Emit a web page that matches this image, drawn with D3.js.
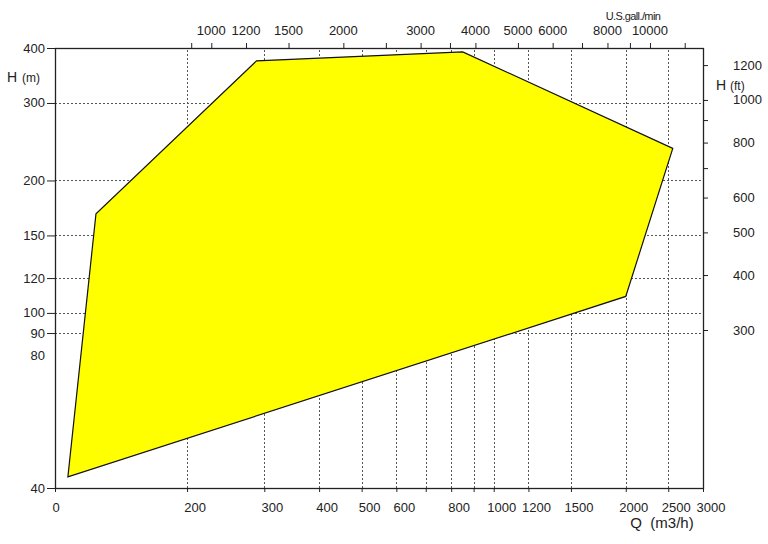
<!DOCTYPE html>
<html><head><meta charset="utf-8">
<script src="https://cdn.jsdelivr.net/npm/d3@7"></script>
<style>
body{margin:0;background:#fff;}
text{font-family:"Liberation Sans",Arial,sans-serif;fill:#222;}
</style></head>
<body><svg id="c" width="768" height="544"></svg>
<script>
// Data
const flowQ = [107, 124, 288, 850, 2560, 2000];      // m3/h
const headH = [42.4, 168, 374, 392, 236.5, 109];     // m
const bottomTicks = [100, 200, 300, 400, 500, 600, 700, 800, 900, 1000, 1200, 1500, 2000, 2500, 3000];
const bottomLabels = {100:"0",200:"200",300:"300",400:"400",500:"500",600:"600",800:"800",1000:"1000",1200:"1200",1500:"1500",2000:"2000",2500:"2500",3000:"3000"};
const bottomGrid = [200, 300, 400, 500, 600, 700, 800, 900, 1000, 1200, 1500, 2000, 2500];
const leftTicks = [40, 90, 100, 120, 150, 200, 300, 400];
const leftLabels = [40, 80, 90, 100, 120, 150, 200, 300, 400];
const leftGrid = [90, 100, 120, 150, 200, 300];
const rightTicks = [300, 400, 500, 600, 700, 800, 900, 1000, 1200];
const rightLabels = [300, 400, 500, 600, 800, 1000, 1200];
const topTicks = [900, 1000, 1200, 1500, 2000, 2500, 3000, 3500, 4000, 5000, 6000, 7000, 8000, 9000, 10000, 12000];
const topLabels = [1000, 1200, 1500, 2000, 3000, 4000, 5000, 6000, 8000, 10000];
const M_TO_FT = 3.28084, M3H_TO_GPM = 4.40287;

const svg = d3.select("#c");
const x0 = 55, x1 = 703, y0 = 488, y1 = 48;
const x = d3.scaleLog().domain([100, 3000]).range([x0, x1]);
const y = d3.scaleLog().domain([40, 400]).range([y0, y1]);
const yFt = d3.scaleLog().domain([40*M_TO_FT, 400*M_TO_FT]).range([y0, y1]);
const xG = d3.scaleLog().domain([100*M3H_TO_GPM, 3000*M3H_TO_GPM]).range([x0, x1]);

const grid = svg.append("g").attr("stroke", "#555").attr("stroke-width", 1).attr("stroke-dasharray", "2,2");
grid.selectAll(".v").data(bottomGrid).join("line")
  .attr("x1", d => Math.round(x(d)) + 0.5).attr("x2", d => Math.round(x(d)) + 0.5)
  .attr("y1", y0).attr("y2", y1);
grid.selectAll(".h").data(leftGrid).join("line")
  .attr("y1", d => Math.round(y(d)) + 0.5).attr("y2", d => Math.round(y(d)) + 0.5)
  .attr("x1", x0).attr("x2", x1);

// polygon
const pts = flowQ.map((q, i) => [x(q), y(headH[i])]);
svg.append("path").attr("d", d3.line()(pts) + "Z")
  .attr("fill", "#ffff00").attr("stroke", "#111").attr("stroke-width", 1.2).attr("stroke-linejoin", "miter");

// frame
svg.append("rect").attr("x", x0 + 0.5).attr("y", y1 + 0.5).attr("width", x1 - x0).attr("height", y0 - y1)
  .attr("fill", "none").attr("stroke", "#222").attr("stroke-width", 1.3);

// bottom axis
const bAxis = d3.axisBottom(x).tickValues(bottomTicks).tickSize(4).tickFormat(() => "");
const gb = svg.append("g").attr("transform", `translate(0,${y0})`).call(bAxis);
gb.select(".domain").remove();
gb.selectAll(".tick line").attr("stroke", "#222");
svg.append("g").selectAll("text").data(Object.keys(bottomLabels).map(Number)).join("text")
  .attr("x", d => x(d) + (d === 100 ? 1 : 8)).attr("y", 512).attr("text-anchor", "middle")
  .attr("font-size", 13).text(d => bottomLabels[d]);
svg.append("text").attr("x", 662).attr("y", 528).attr("text-anchor", "middle").attr("font-size", 15)
  .attr("xml:space", "preserve").text("Q  (m3/h)");

// left axis
const lAxis = d3.axisLeft(y).tickValues(leftTicks).tickSize(8).tickFormat(() => "");
const gl = svg.append("g").attr("transform", `translate(${x0},0)`).call(lAxis);
gl.select(".domain").remove();
gl.selectAll(".tick line").attr("stroke", "#222");
svg.append("g").selectAll("text").data(leftLabels).join("text")
  .attr("x", 45).attr("y", d => y(d) + 4.5).attr("text-anchor", "end").attr("font-size", 13).text(d => d);
svg.append("text").attr("x", 7).attr("y", 82).attr("font-size", 14).text("H");
svg.append("text").attr("x", 22).attr("y", 82).attr("font-size", 12).text("(m)");

// right axis
const rAxis = d3.axisRight(yFt).tickValues(rightTicks).tickSize(5).tickFormat(() => "");
const gr = svg.append("g").attr("transform", `translate(${x1},0)`).call(rAxis);
gr.select(".domain").remove();
gr.selectAll(".tick line").attr("stroke", "#222");
svg.append("g").selectAll("text").data(rightLabels).join("text")
  .attr("x", 733).attr("y", d => yFt(d) + 4.5).attr("text-anchor", "start").attr("font-size", 13).text(d => d);
svg.append("text").attr("x", 716).attr("y", 90).attr("font-size", 14).text("H");
svg.append("text").attr("x", 730).attr("y", 90).attr("font-size", 12).text("(ft)");

// top axis
const tAxis = d3.axisTop(xG).tickValues(topTicks).tickSize(5).tickFormat(() => "");
const gt = svg.append("g").attr("transform", `translate(0,${y1})`).call(tAxis);
gt.select(".domain").remove();
gt.selectAll(".tick line").attr("stroke", "#222");
svg.append("g").selectAll("text").data(topLabels).join("text")
  .attr("x", d => xG(d)).attr("y", 35).attr("text-anchor", "middle").attr("font-size", 13).text(d => d);
svg.append("text").attr("x", 633).attr("y", 20).attr("text-anchor", "middle").attr("font-size", 11)
  .attr("letter-spacing", "-0.6").text("U.S.gall./min");
</script></body></html>
